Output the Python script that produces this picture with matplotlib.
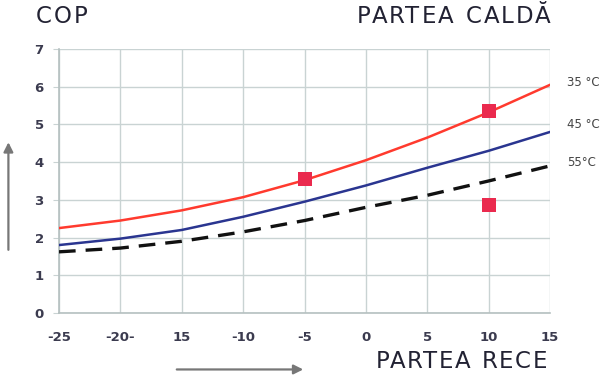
import matplotlib.pyplot as plt

# Date
temp_ext = [-25, -20, -15, -10, -5, 0, 5, 10, 15]
cop_35 = [2.25, 2.45, 2.72, 3.07, 3.52, 4.05, 4.65, 5.32, 6.05]
cop_45 = [1.8, 1.97, 2.2, 2.55, 2.95, 3.38, 3.85, 4.3, 4.8]
cop_55 = [1.62, 1.72, 1.9, 2.15, 2.45, 2.8, 3.12, 3.5, 3.9]
pct_x = [-5, 10, 10]
pct_y = [3.55, 5.36, 2.86]
xtick_vals = [-25, -20, -15, -10, -5, 0, 5, 10, 15]
xtick_text = ["-25", "-20-", "15", "-10", "-5", "0", "5", "10", "15"]
serii = ["35 °C", "45 °C", "55°C"]

grid_col = "#c9d3d3"
txt_col = "#3b3b4f"
W, H = 600, 377

fig = plt.figure(figsize=(6, 3.77), dpi=100)
ax = fig.add_axes([0.0983, 0.170, 0.8184, 0.700])

ax.plot(temp_ext, cop_35, color="#ff3a2e", lw=1.8, zorder=3)
ax.plot(temp_ext, cop_45, color="#2a3590", lw=1.8, zorder=3)
ax.plot(temp_ext, cop_55, color="#111111", lw=2.4, dashes=(5, 3), zorder=3)
ax.scatter(pct_x, pct_y, marker="s", s=115, color="#ea2a4e", zorder=4, linewidths=0)

ax.set_xlim(-25, 15)
ax.set_ylim(0, 7)
ax.set_xticks(xtick_vals)
ax.set_xticklabels(xtick_text)
ax.set_yticks(range(0, 8))
ax.grid(True, color=grid_col, lw=1)
ax.set_axisbelow(True)
for s in ["top", "right"]:
    ax.spines[s].set_visible(False)
for s in ["left", "bottom"]:
    ax.spines[s].set_color("#b5c0c0")
    ax.spines[s].set_linewidth(1.2)
ax.tick_params(axis="y", length=4, color=grid_col, pad=7,
               labelsize=9.5, labelcolor=txt_col)
ax.tick_params(axis="x", length=0, pad=13, labelsize=9.5, labelcolor=txt_col)
for lbl in ax.get_xticklabels() + ax.get_yticklabels():
    lbl.set_fontweight("bold")

# Etichete serii
for txt, yv in zip(serii, [6.1, 5.01, 4.0]):
    ax.annotate(txt, xy=(15, yv), xytext=(12, 0), textcoords="offset points",
                fontsize=8.5, color="#444444", va="center", ha="left",
                annotation_clip=False)

# Titluri, cu putina spatiere intre litere
rend = fig.canvas.get_renderer()
kw = dict(fontsize=16.5, color="#222233", family="DejaVu Sans")


def lat(s):
    t = fig.text(0, 0, s, **kw)
    w = t.get_window_extent(rend).width
    t.remove()
    return w


def titlu(s, x0, x1, y_base):
    extra = max(0, (x1 - x0 - lat(s)) / (len(s) - 1))
    for i, ch in enumerate(s):
        if ch == " ":
            continue
        xr = x0 + lat(s[:i + 1]) + i * extra
        fig.text(xr / W, 1 - y_base / H, ch, ha="right", va="baseline", **kw)


titlu("COP", 36, 87, 22.7)
titlu("PARTEA CALDĂ", 357, 551, 22.7)
titlu("PARTEA RECE", 376, 547, 368.3)

# Săgeți
fig.add_artist(plt.Annotation("", xy=(0.014, 0.63), xytext=(0.014, 0.33),
                              xycoords="figure fraction",
                              arrowprops=dict(arrowstyle="-|>", color="#777777",
                                              lw=1.6, mutation_scale=14)))
fig.add_artist(plt.Annotation("", xy=(0.51, 0.02), xytext=(0.29, 0.02),
                              xycoords="figure fraction",
                              arrowprops=dict(arrowstyle="-|>", color="#777777",
                                              lw=1.6, mutation_scale=14)))

fig.savefig("out.png", dpi=100)
